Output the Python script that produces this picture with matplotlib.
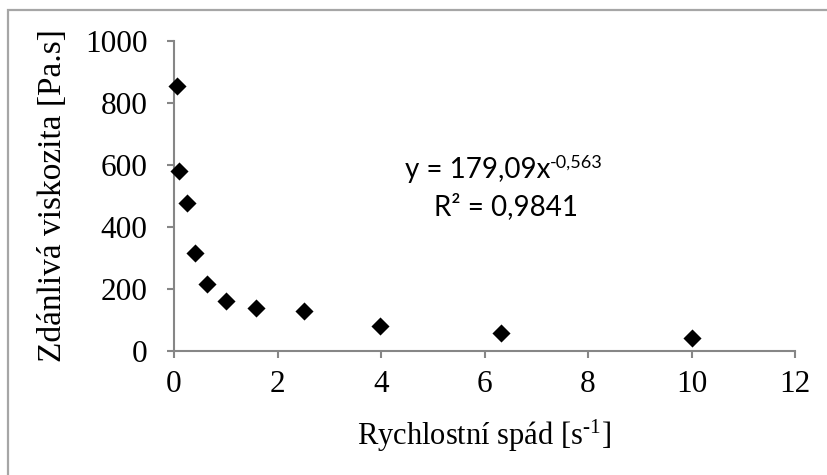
import matplotlib
matplotlib.use("Agg")
import matplotlib.pyplot as plt
from matplotlib.patches import Rectangle

# ============================================================
# data
# ============================================================
shear_rate = [0.063, 0.1, 0.25, 0.4, 0.63, 1.0, 1.58, 2.51, 3.98, 6.31, 10.0]
viscosity  = [854, 581, 478, 317, 215, 161, 140, 130, 80, 57, 43]
x_ticks = [0, 2, 4, 6, 8, 10, 12]
y_ticks = [0, 200, 400, 600, 800, 1000]

SERIF = 'Liberation Serif'
SANS  = 'Lato'
AXIS_GRAY = '#868686'

plt.rcParams['mathtext.fontset'] = 'custom'
plt.rcParams['mathtext.rm'] = SERIF
plt.rcParams['mathtext.it'] = SERIF

W, H = 827, 475
fig = plt.figure(figsize=(W / 100, H / 100), dpi=100)
ax = fig.add_axes([174 / W, 1 - 351 / H, (795 - 174) / W, (351 - 41) / H])

# outer frame (only top/left visible in the reference)
fig.patches.append(Rectangle((8 / W, -0.05), 1.1, 1 - 10 / H + 0.05,
                             transform=fig.transFigure, fill=False,
                             edgecolor='#a6a6a6', lw=1.6))

ax.scatter(shear_rate, viscosity, marker='D', s=85, color='black',
           linewidths=0, zorder=3, clip_on=False)

ax.set_xlim(0, 12)
ax.set_ylim(0, 1000)
ax.set_xticks(x_ticks)
ax.set_yticks(y_ticks)
ax.set_xticklabels([str(v) for v in x_ticks], fontfamily=SERIF, fontsize=22.5)
ax.set_yticklabels([str(v) for v in y_ticks], fontfamily=SERIF, fontsize=22.5)

for side in ('top', 'right'):
    ax.spines[side].set_visible(False)
for side in ('left', 'bottom'):
    ax.spines[side].set_color(AXIS_GRAY)
    ax.spines[side].set_linewidth(1.5)
ax.tick_params(axis='both', direction='out', length=5, width=1.5,
               color=AXIS_GRAY, labelcolor='black')
ax.tick_params(axis='x', pad=9)
ax.tick_params(axis='y', pad=14)

# hyphen (U+2010) instead of the math minus, as in the original
ax.set_xlabel('Rychlostní spád [s$^{\\mathrm{\u2010}1}$]', fontfamily=SERIF,
              fontsize=22, labelpad=13)
ax.set_ylabel('Zdánlivá viskozita [Pa.s]', fontfamily=SERIF,
              fontsize=24, labelpad=12)

# trendline equation (Excel style)
eq = ax.text(4.46, 557, 'y = 179,09x', fontfamily=SANS, fontsize=20,
             ha='left', va='baseline')
ax.annotate('-0,563', xy=(1, 0.62), xycoords=eq, fontfamily=SANS,
            fontsize=13, ha='left', va='baseline')
ax.text(5.02, 438, 'R² = 0,9841', fontfamily=SANS, fontsize=20,
        ha='left', va='baseline')

fig.savefig('out.png', dpi=100)
